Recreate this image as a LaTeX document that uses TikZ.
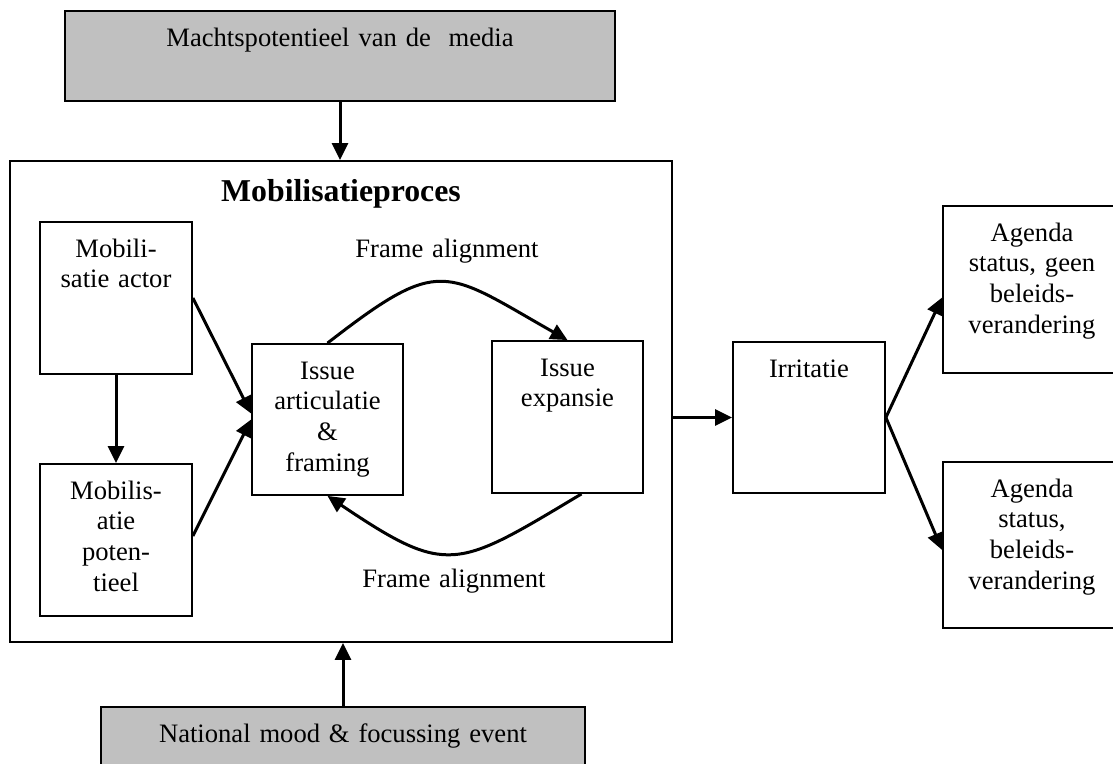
\documentclass[tikz,border=0pt]{standalone}
\usepackage{fontspec}
\setmainfont{Liberation Serif}
\usepackage{xcolor}
\usetikzlibrary{arrows.meta}
\definecolor{grijsvlak}{HTML}{C0C0C0}
\newcommand{\tekstgrootte}{\fontsize{13.3}{15.35}\selectfont}
\newcommand{\titelgrootte}{\fontsize{15.9}{18}\selectfont}

\begin{document}
\begin{tikzpicture}[x=0.5pt,y=-0.5pt,
  blok/.style={draw,line width=0.9pt,inner sep=0pt},
  grijs/.style={blok,fill=grijsvlak},
  tekst/.style={anchor=base,align=center,text width=250pt,inner sep=0pt,font=\tekstgrootte},
  pijl/.style={-{Triangle[length=8.5pt,width=8pt]},line width=1.5pt}]
\clip (0,0) rectangle (1113,764);

% blokken
\node[grijs,minimum width=275pt,minimum height=45pt] (media) at (340,56) {};
\node[blok,minimum width=331pt,minimum height=240.5pt] (proces) at (341,401.5) {};
\node[blok,minimum width=76pt,minimum height=76pt] (actor) at (116,298) {};
\node[blok,minimum width=76pt,minimum height=76pt] (pot) at (116,540) {};
\node[blok,minimum width=75.5pt,minimum height=75.5pt] (artic) at (327.5,419.5) {};
\node[blok,minimum width=75.5pt,minimum height=76pt] (expans) at (567.5,417) {};
\node[blok,minimum width=76pt,minimum height=75.5pt] (irrit) at (809,417.5) {};
\node[blok,minimum width=89pt,minimum height=83.5pt] (agenda1) at (1032,289.5) {};
\node[blok,minimum width=89pt,minimum height=83pt] (agenda2) at (1032,545) {};
\node[grijs,minimum width=242pt,minimum height=46.5pt] (national) at (343,753.5) {};

% teksten
\node[tekst] (media-t) at ([yshift=-18pt]media.north) {Machtspotentieel van de\ \ media};
\node[anchor=base,inner sep=0pt,font=\titelgrootte\bfseries] (titel) at ([yshift=-20.5pt]proces.north) {Mobilisatieproces};
\node[tekst] (actor-t) at ([yshift=-18pt]actor.north) {Mobili-\\satie actor};
\node[tekst] (pot-t) at ([yshift=-18pt]pot.north) {Mobilis-\\atie\\poten-\\tieel};
\node[tekst] (artic-t) at ([yshift=-18pt]artic.north) {Issue\\articulatie\\\&\\framing};
\node[tekst] (expans-t) at ([yshift=-18pt]expans.north) {Issue\\expansie};
\node[tekst] (irrit-t) at ([yshift=-18pt]irrit.north) {Irritatie};
\node[tekst] (agenda1-t) at ([yshift=-18pt]agenda1.north) {Agenda\\status, geen\\beleids-\\verandering};
\node[tekst] (agenda2-t) at ([yshift=-18pt]agenda2.north) {Agenda\\status,\\beleids-\\verandering};
\node[tekst] (national-t) at ([yshift=-18pt]national.north) {National mood \& focussing event};
\node[tekst] (frame1) at (447,258) {Frame alignment};
\node[tekst] (frame2) at (454,587) {Frame alignment};

% pijlen
\draw[pijl] (media.south) -- (media.south |- proces.north);
\draw[pijl] (national.north) -- (national.north |- proces.south);
\draw[pijl] (actor) -- (pot);
\draw[pijl] (actor.east) -- ([yshift=3pt]artic.west);
\draw[pijl] ([yshift=2pt]pot.east) -- (artic.west);
\draw[pijl] (artic.north) .. controls (441,255) and (444,270) .. (expans.north);
\draw[pijl] ([xshift=7pt]expans.south) .. controls (456,569) and (448,577) .. (artic.south);
\draw[pijl] (proces.east |- irrit.west) -- (irrit.west);
\draw[pijl] (irrit.east) -- ([yshift=-4pt]agenda1.west);
\draw[pijl] (irrit.east) -- ([yshift=-2.5pt]agenda2.west);
\end{tikzpicture}
\end{document}
